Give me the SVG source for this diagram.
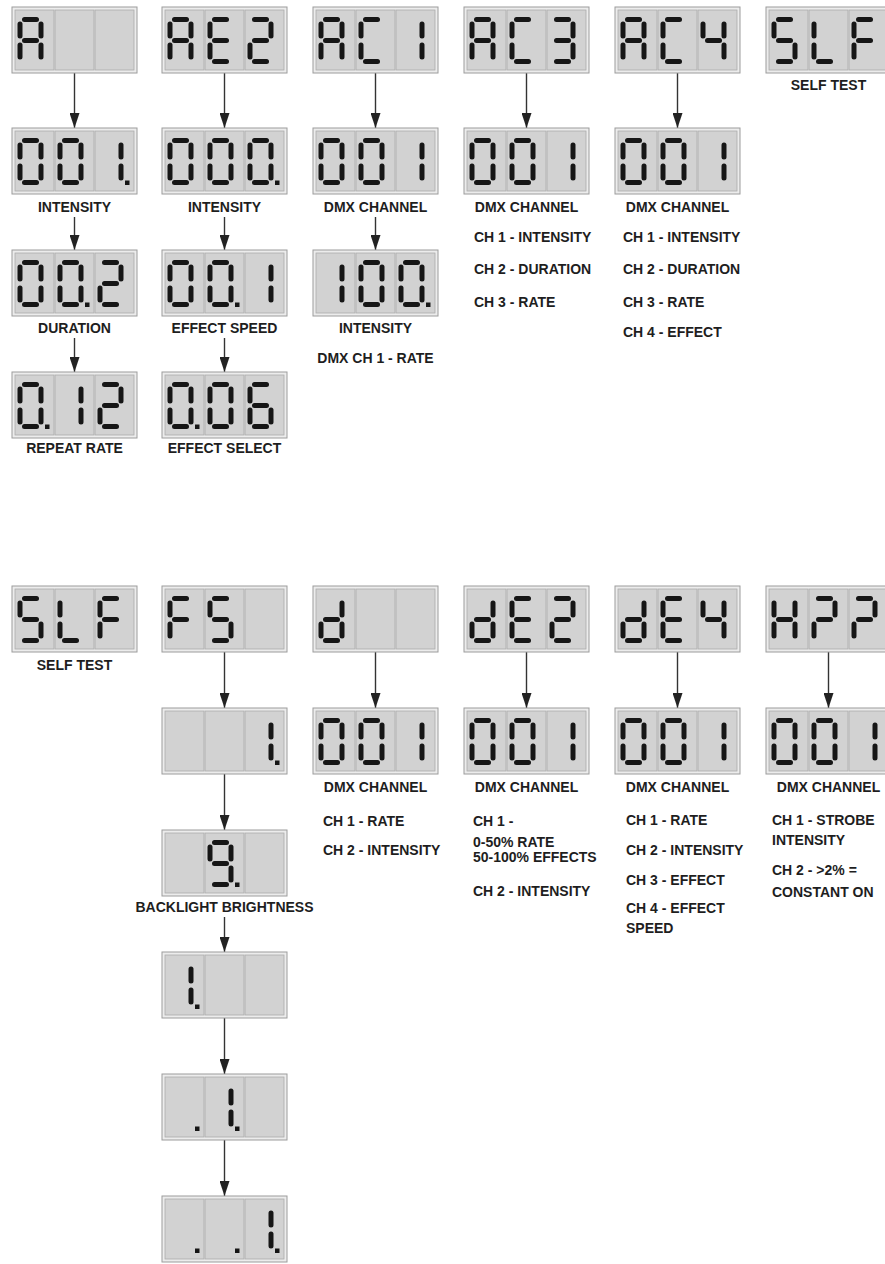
<svg xmlns="http://www.w3.org/2000/svg" xmlns:xlink="http://www.w3.org/1999/xlink" width="885" height="1264" viewBox="0 0 885 1264">
<style>
.t{font-family:"Liberation Sans",Arial,sans-serif;font-weight:bold;font-size:14px;fill:#1e1e1e}
.m{text-anchor:middle}
.cn{stroke:#333;stroke-width:1.4;fill:none}
</style>
<defs>
<marker id="ah" viewBox="0 0 15 10" markerWidth="15" markerHeight="10" refX="15" refY="5" orient="auto" markerUnits="userSpaceOnUse"><path d="M0,0 L15,5 L0,10 Z" fill="#222"/></marker>
<g id="box">
<rect x="0" y="0" width="125" height="66" fill="#ececec" stroke="#9c9c9c" stroke-width="1"/>
<rect x="3" y="3" width="39" height="60" fill="#d2d2d2" stroke="#ababab" stroke-width="0.8"/>
<rect x="43" y="3" width="39" height="60" fill="#d2d2d2" stroke="#ababab" stroke-width="0.8"/>
<rect x="83" y="3" width="39" height="60" fill="#d2d2d2" stroke="#ababab" stroke-width="0.8"/>
</g>
<line id="sa" x1="7" y1="2.5" x2="19" y2="2.5" stroke="#161616" stroke-width="5" stroke-linecap="round"/>
<line id="sb" x1="23.5" y1="7" x2="23.5" y2="19" stroke="#161616" stroke-width="5" stroke-linecap="round"/>
<line id="sc" x1="23.5" y1="28" x2="23.5" y2="40" stroke="#161616" stroke-width="5" stroke-linecap="round"/>
<line id="sd" x1="7" y1="44.5" x2="19" y2="44.5" stroke="#161616" stroke-width="5" stroke-linecap="round"/>
<line id="se" x1="2.5" y1="28" x2="2.5" y2="40" stroke="#161616" stroke-width="5" stroke-linecap="round"/>
<line id="sf" x1="2.5" y1="7" x2="2.5" y2="19" stroke="#161616" stroke-width="5" stroke-linecap="round"/>
<line id="sg" x1="7" y1="23.5" x2="19" y2="23.5" stroke="#161616" stroke-width="5" stroke-linecap="round"/>
<rect id="dp" x="27.5" y="42.5" width="4.5" height="4.5" fill="#161616"/>
<g id="g0"><use href="#sa"/><use href="#sb"/><use href="#sc"/><use href="#sd"/><use href="#se"/><use href="#sf"/></g>
<g id="g1"><use href="#sb"/><use href="#sc"/></g>
<g id="g2"><use href="#sa"/><use href="#sb"/><use href="#sg"/><use href="#se"/><use href="#sd"/></g>
<g id="g3"><use href="#sa"/><use href="#sb"/><use href="#sg"/><use href="#sc"/><use href="#sd"/></g>
<g id="g4"><use href="#sf"/><use href="#sg"/><use href="#sb"/><use href="#sc"/></g>
<g id="g5"><use href="#sa"/><use href="#sf"/><use href="#sg"/><use href="#sc"/><use href="#sd"/></g>
<g id="g6"><use href="#sa"/><use href="#sf"/><use href="#sg"/><use href="#se"/><use href="#sd"/><use href="#sc"/></g>
<g id="g9"><use href="#sa"/><use href="#sb"/><use href="#sf"/><use href="#sg"/><use href="#sc"/><use href="#sd"/></g>
<g id="gA"><use href="#sa"/><use href="#sb"/><use href="#sc"/><use href="#se"/><use href="#sf"/><use href="#sg"/></g>
<g id="gE"><use href="#sa"/><use href="#sd"/><use href="#se"/><use href="#sf"/><use href="#sg"/></g>
<g id="gC"><use href="#sa"/><use href="#sf"/><use href="#se"/><use href="#sd"/></g>
<g id="gL"><use href="#sf"/><use href="#se"/><use href="#sd"/></g>
<g id="gF"><use href="#sa"/><use href="#sf"/><use href="#sg"/><use href="#se"/></g>
<g id="gd"><use href="#sb"/><use href="#sc"/><use href="#sd"/><use href="#se"/><use href="#sg"/></g>
<g id="gH"><use href="#sb"/><use href="#sc"/><use href="#se"/><use href="#sf"/><use href="#sg"/></g>
<g id="gQ"><use href="#sa"/><use href="#sb"/><use href="#sg"/><use href="#se"/></g>
</defs>
<rect width="885" height="1264" fill="#fff"/>

<g id="connectors">
<line class="cn" x1="74.5" y1="73" x2="74.5" y2="128" marker-end="url(#ah)"/>
<line class="cn" x1="74.5" y1="217" x2="74.5" y2="250" marker-end="url(#ah)"/>
<line class="cn" x1="74.5" y1="338" x2="74.5" y2="372" marker-end="url(#ah)"/>
<line class="cn" x1="224.5" y1="73" x2="224.5" y2="128" marker-end="url(#ah)"/>
<line class="cn" x1="224.5" y1="217" x2="224.5" y2="250" marker-end="url(#ah)"/>
<line class="cn" x1="224.5" y1="338" x2="224.5" y2="372" marker-end="url(#ah)"/>
<line class="cn" x1="375.5" y1="73" x2="375.5" y2="128" marker-end="url(#ah)"/>
<line class="cn" x1="375.5" y1="217" x2="375.5" y2="250" marker-end="url(#ah)"/>
<line class="cn" x1="526.5" y1="73" x2="526.5" y2="128" marker-end="url(#ah)"/>
<line class="cn" x1="677.5" y1="73" x2="677.5" y2="128" marker-end="url(#ah)"/>
<line class="cn" x1="224.5" y1="652" x2="224.5" y2="708" marker-end="url(#ah)"/>
<line class="cn" x1="224.5" y1="774" x2="224.5" y2="830" marker-end="url(#ah)"/>
<line class="cn" x1="224.5" y1="917" x2="224.5" y2="952" marker-end="url(#ah)"/>
<line class="cn" x1="224.5" y1="1018" x2="224.5" y2="1074" marker-end="url(#ah)"/>
<line class="cn" x1="224.5" y1="1140" x2="224.5" y2="1196" marker-end="url(#ah)"/>
<line class="cn" x1="375.5" y1="652" x2="375.5" y2="708" marker-end="url(#ah)"/>
<line class="cn" x1="526.5" y1="652" x2="526.5" y2="708" marker-end="url(#ah)"/>
<line class="cn" x1="677.5" y1="652" x2="677.5" y2="708" marker-end="url(#ah)"/>
<line class="cn" x1="828.5" y1="652" x2="828.5" y2="708" marker-end="url(#ah)"/>
</g>

<!-- TOP SECTION row 1 -->
<g id="t-A"><use href="#box" x="12" y="7"/><use href="#gA" x="17.5" y="17"/></g>
<g id="t-AE2"><use href="#box" x="162" y="7"/><use href="#gA" x="167.5" y="17"/><use href="#gE" x="207.5" y="17"/><use href="#g2" x="247.5" y="17"/></g>
<g id="t-AC1"><use href="#box" x="313" y="7"/><use href="#gA" x="318.5" y="17"/><use href="#gC" x="358.5" y="17"/><use href="#g1" x="398.5" y="17"/></g>
<g id="t-AC3"><use href="#box" x="464" y="7"/><use href="#gA" x="469.5" y="17"/><use href="#gC" x="509.5" y="17"/><use href="#g3" x="549.5" y="17"/></g>
<g id="t-AC4"><use href="#box" x="615" y="7"/><use href="#gA" x="620.5" y="17"/><use href="#gC" x="660.5" y="17"/><use href="#g4" x="700.5" y="17"/></g>
<g id="t-SLF"><use href="#box" x="766" y="7"/><use href="#g5" x="771.5" y="17"/><use href="#gL" x="811.5" y="17"/><use href="#gF" x="851.5" y="17"/>
<text class="t m" x="828.5" y="90">SELF TEST</text></g>

<!-- row 2 -->
<g id="t-001a"><use href="#box" x="12" y="128"/><use href="#g0" x="17.5" y="138"/><use href="#g0" x="57.5" y="138"/><use href="#g1" x="97.5" y="138"/><use href="#dp" x="97.5" y="138"/>
<text class="t m" x="74.5" y="212">INTENSITY</text></g>
<g id="t-000"><use href="#box" x="162" y="128"/><use href="#g0" x="167.5" y="138"/><use href="#g0" x="207.5" y="138"/><use href="#g0" x="247.5" y="138"/><use href="#dp" x="247.5" y="138"/>
<text class="t m" x="224.5" y="212">INTENSITY</text></g>
<g id="t-001b"><use href="#box" x="313" y="128"/><use href="#g0" x="318.5" y="138"/><use href="#g0" x="358.5" y="138"/><use href="#g1" x="398.5" y="138"/>
<text class="t m" x="375.5" y="212">DMX CHANNEL</text></g>
<g id="t-001c"><use href="#box" x="464" y="128"/><use href="#g0" x="469.5" y="138"/><use href="#g0" x="509.5" y="138"/><use href="#g1" x="549.5" y="138"/>
<text class="t m" x="526.5" y="212">DMX CHANNEL</text>
<text class="t" x="474" y="242">CH 1 - INTENSITY</text>
<text class="t" x="474" y="274">CH 2 - DURATION</text>
<text class="t" x="474" y="307">CH 3 - RATE</text></g>
<g id="t-001d"><use href="#box" x="615" y="128"/><use href="#g0" x="620.5" y="138"/><use href="#g0" x="660.5" y="138"/><use href="#g1" x="700.5" y="138"/>
<text class="t m" x="677.5" y="212">DMX CHANNEL</text>
<text class="t" x="623" y="242">CH 1 - INTENSITY</text>
<text class="t" x="623" y="274">CH 2 - DURATION</text>
<text class="t" x="623" y="307">CH 3 - RATE</text>
<text class="t" x="623" y="337">CH 4 - EFFECT</text></g>

<!-- row 3 -->
<g id="t-002"><use href="#box" x="12" y="250"/><use href="#g0" x="17.5" y="260"/><use href="#g0" x="57.5" y="260"/><use href="#dp" x="57.5" y="260"/><use href="#g2" x="97.5" y="260"/>
<text class="t m" x="74.5" y="333">DURATION</text></g>
<g id="t-001e"><use href="#box" x="162" y="250"/><use href="#g0" x="167.5" y="260"/><use href="#g0" x="207.5" y="260"/><use href="#dp" x="207.5" y="260"/><use href="#g1" x="247.5" y="260"/>
<text class="t m" x="224.5" y="333">EFFECT SPEED</text></g>
<g id="t-100"><use href="#box" x="313" y="250"/><use href="#g1" x="318.5" y="260"/><use href="#g0" x="358.5" y="260"/><use href="#g0" x="398.5" y="260"/><use href="#dp" x="398.5" y="260"/>
<text class="t m" x="375.5" y="333">INTENSITY</text>
<text class="t m" x="375.5" y="363">DMX CH 1 - RATE</text></g>

<!-- row 4 -->
<g id="t-012"><use href="#box" x="12" y="372"/><use href="#g0" x="17.5" y="382"/><use href="#dp" x="17.5" y="382"/><use href="#g1" x="57.5" y="382"/><use href="#g2" x="97.5" y="382"/>
<text class="t m" x="74.5" y="453">REPEAT RATE</text></g>
<g id="t-006"><use href="#box" x="162" y="372"/><use href="#g0" x="167.5" y="382"/><use href="#dp" x="167.5" y="382"/><use href="#g0" x="207.5" y="382"/><use href="#g6" x="247.5" y="382"/>
<text class="t m" x="224.5" y="453">EFFECT SELECT</text></g>

<!-- BOTTOM SECTION row 1 -->
<g id="b-SLF"><use href="#box" x="12" y="586"/><use href="#g5" x="17.5" y="596"/><use href="#gL" x="57.5" y="596"/><use href="#gF" x="97.5" y="596"/>
<text class="t m" x="74.5" y="670">SELF TEST</text></g>
<g id="b-FS"><use href="#box" x="162" y="586"/><use href="#gF" x="167.5" y="596"/><use href="#g5" x="207.5" y="596"/></g>
<g id="b-d"><use href="#box" x="313" y="586"/><use href="#gd" x="318.5" y="596"/></g>
<g id="b-dE2"><use href="#box" x="464" y="586"/><use href="#gd" x="469.5" y="596"/><use href="#gE" x="509.5" y="596"/><use href="#g2" x="549.5" y="596"/></g>
<g id="b-dE4"><use href="#box" x="615" y="586"/><use href="#gd" x="620.5" y="596"/><use href="#gE" x="660.5" y="596"/><use href="#g4" x="700.5" y="596"/></g>
<g id="b-HQQ"><use href="#box" x="766" y="586"/><use href="#gH" x="771.5" y="596"/><use href="#gQ" x="811.5" y="596"/><use href="#gQ" x="851.5" y="596"/></g>

<!-- row 2 -->
<g id="b-1"><use href="#box" x="162" y="708"/><use href="#g1" x="247.5" y="718"/><use href="#dp" x="247.5" y="718"/></g>
<g id="b-001a"><use href="#box" x="313" y="708"/><use href="#g0" x="318.5" y="718"/><use href="#g0" x="358.5" y="718"/><use href="#g1" x="398.5" y="718"/>
<text class="t m" x="375.5" y="792">DMX CHANNEL</text>
<text class="t" x="323" y="826">CH 1 - RATE</text>
<text class="t" x="323" y="855">CH 2 - INTENSITY</text></g>
<g id="b-001b"><use href="#box" x="464" y="708"/><use href="#g0" x="469.5" y="718"/><use href="#g0" x="509.5" y="718"/><use href="#g1" x="549.5" y="718"/>
<text class="t m" x="526.5" y="792">DMX CHANNEL</text>
<text class="t" x="473" y="826">CH 1 -</text>
<text class="t" x="473" y="847">0-50% RATE</text>
<text class="t" x="473" y="862">50-100% EFFECTS</text>
<text class="t" x="473" y="896">CH 2 - INTENSITY</text></g>
<g id="b-001c"><use href="#box" x="615" y="708"/><use href="#g0" x="620.5" y="718"/><use href="#g0" x="660.5" y="718"/><use href="#g1" x="700.5" y="718"/>
<text class="t m" x="677.5" y="792">DMX CHANNEL</text>
<text class="t" x="626" y="825">CH 1 - RATE</text>
<text class="t" x="626" y="855">CH 2 - INTENSITY</text>
<text class="t" x="626" y="885">CH 3 - EFFECT</text>
<text class="t" x="626" y="913">CH 4 - EFFECT</text>
<text class="t" x="626" y="933">SPEED</text></g>
<g id="b-001d"><use href="#box" x="766" y="708"/><use href="#g0" x="771.5" y="718"/><use href="#g0" x="811.5" y="718"/><use href="#g1" x="851.5" y="718"/>
<text class="t m" x="828.5" y="792">DMX CHANNEL</text>
<text class="t" x="772" y="825">CH 1 - STROBE</text>
<text class="t" x="772" y="845">INTENSITY</text>
<text class="t" x="772" y="875">CH 2 - &gt;2% =</text>
<text class="t" x="772" y="897">CONSTANT ON</text></g>

<!-- col 2 chain -->
<g id="b-9"><use href="#box" x="162" y="830"/><use href="#g9" x="207.5" y="840"/><use href="#dp" x="207.5" y="840"/>
<text class="t m" x="224.5" y="912">BACKLIGHT BRIGHTNESS</text></g>
<g id="b-1a"><use href="#box" x="162" y="952"/><use href="#g1" x="167.5" y="962"/><use href="#dp" x="167.5" y="962"/></g>
<g id="b-1b"><use href="#box" x="162" y="1074"/><use href="#dp" x="167.5" y="1084"/><use href="#g1" x="207.5" y="1084"/><use href="#dp" x="207.5" y="1084"/></g>
<g id="b-1c"><use href="#box" x="162" y="1196"/><use href="#dp" x="167.5" y="1206"/><use href="#dp" x="207.5" y="1206"/><use href="#g1" x="247.5" y="1206"/><use href="#dp" x="247.5" y="1206"/></g>
</svg>
